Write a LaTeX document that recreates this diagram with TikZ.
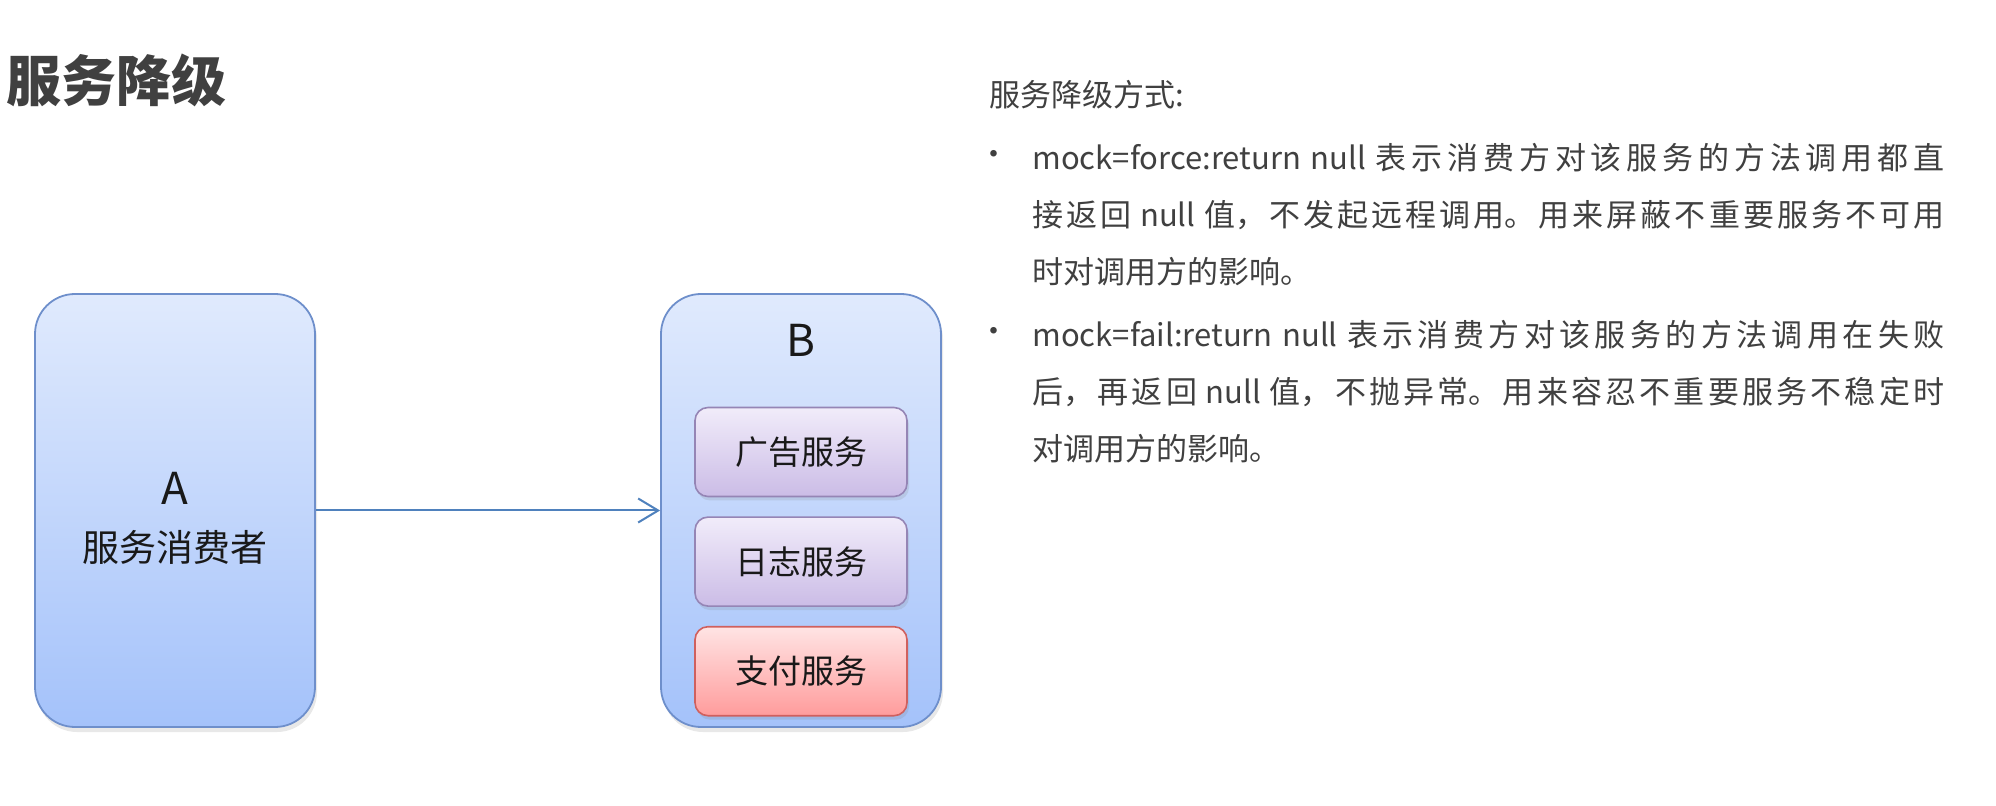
\documentclass[tikz,border=0pt]{standalone}
\usepackage{fontspec}
\setmainfont{Noto Sans CJK SC}
\usepackage{xcolor}
\usetikzlibrary{positioning,arrows.meta,shadows}
\XeTeXlinebreaklocale "zh"
\XeTeXlinebreakskip=0pt plus 3pt

\definecolor{grouptop}{HTML}{E0EAFD}
\definecolor{groupbot}{HTML}{A4C2FA}
\definecolor{groupline}{HTML}{6E8FCB}
\definecolor{svctop}{HTML}{F1ECFA}
\definecolor{svcbot}{HTML}{CBBCE6}
\definecolor{svcline}{HTML}{9585B5}
\definecolor{paytop}{HTML}{FFE4E4}
\definecolor{paybot}{HTML}{FF9C9C}
\definecolor{payline}{HTML}{D0605E}
\definecolor{flowblue}{HTML}{4F81BD}
\definecolor{notegray}{HTML}{404040}

\begin{document}
\begin{tikzpicture}[x=0.5pt, y=-0.5pt, >={Straight Barb[length=10pt,width=12pt]},
		group/.style={draw=groupline, line width=0.9pt, rounded corners=20pt, top color=grouptop, bottom color=groupbot, minimum width=140pt, minimum height=216.5pt, drop shadow={opacity=0.18, shadow xshift=1pt, shadow yshift=-2.5pt}},
		service/.style={draw=svcline, line width=0.8pt, rounded corners=6.5pt, top color=svctop, bottom color=svcbot, minimum width=106pt, minimum height=44.5pt, text=black!90, font=\fontsize{16.5pt}{20pt}\selectfont, drop shadow={opacity=0.18, shadow xshift=1pt, shadow yshift=-2pt}},
		payment/.style={service, draw=payline, top color=paytop, bottom color=paybot},
		tag/.style={text=black!90, font=\fontsize{18.5pt}{22pt}\selectfont},
		letter/.style={tag, font=\fontsize{22pt}{26pt}\selectfont},
		title/.style={text=notegray, inner sep=0pt, font=\fontsize{27.5pt}{30pt}\selectfont\bfseries},
		note/.style={text=notegray, inner sep=0pt, font=\fontsize{15.5pt}{28.4pt}\selectfont},
		para/.style={note, text width=456pt, align=justify},
		flow/.style={->, draw=flowblue, line width=1pt}]
	\useasboundingbox (0,0) rectangle (1996,806);

	\node[title, anchor=west] (head) at (6,80) {服务降级};

	\node[group] (a) at (175,510.5) {};
	\node[letter] (aname) at (175,488) {A};
	\node[tag] (arole) at (175,547) {服务消费者};

	\node[group] (b) at (801,510.5) {};
	\node[letter] (bname) at (801,340) {B};
	\node[service] (ad) at (801,452) {广告服务};
	\node[service, below=9.5pt of ad] (log) {日志服务};
	\node[payment, below=9.5pt of log] (pay) {支付服务};

	\path (a) edge[flow] (b);

	\node[note, anchor=base west] (ways) at (989,107) {服务降级方式:};
	\node[note] (dot1) at (994,158) {•};
	\node[para, anchor=base west] (force) at (1032,170) {mock=force:return null 表示消费方对该服务的方法调用都直\linebreak 接返回 null 值，不发起远程调用。用来屏蔽不重要服务不可用\linebreak 时对调用方的影响。};
	\node[note] (dot2) at (994,335) {•};
	\node[para, anchor=base west] (fail) at (1032,347) {mock=fail:return null 表示消费方对该服务的方法调用在失败\linebreak 后，再返回 null 值，不抛异常。用来容忍不重要服务不稳定时\linebreak 对调用方的影响。};
\end{tikzpicture}
\end{document}
